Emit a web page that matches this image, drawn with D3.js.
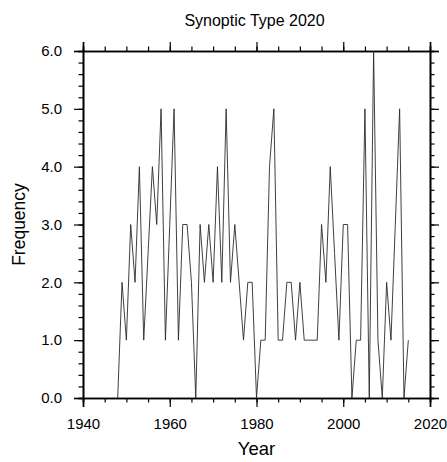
<!DOCTYPE html>
<html>
<head>
<meta charset="utf-8">
<script src="https://cdn.jsdelivr.net/npm/d3@7"></script>
<style>
  body { margin: 0; background: #fff; }
  text { font-family: "Liberation Sans", Arial, Helvetica, sans-serif; fill: #000; }
</style>
</head>
<body>
<div id="chart"></div>
<script>
/**********************************************************************/
// DATA:
/**********************************************************************/
const years = [
  1948, 1949, 1950, 1951, 1952, 1953, 1954, 1955, 1956, 1957,
  1958, 1959, 1960, 1961, 1962, 1963, 1964, 1965, 1966, 1967,
  1968, 1969, 1970, 1971, 1972, 1973, 1974, 1975, 1976, 1977,
  1978, 1979, 1980, 1981, 1982, 1983, 1984, 1985, 1986, 1987,
  1988, 1989, 1990, 1991, 1992, 1993, 1994, 1995, 1996, 1997,
  1998, 1999, 2000, 2001, 2002, 2003, 2004, 2005, 2006, 2007,
  2008, 2009, 2010, 2011, 2012, 2013, 2014, 2015
];
const frequency = [
  0, 2, 1, 3, 2, 4, 1, 2.5, 4, 3,
  5, 1, 3, 5, 1, 3, 3, 2, 0, 3,
  2, 3, 2, 4, 2, 5, 2, 3, 2, 1,
  2, 2, 0, 1, 1, 4, 5, 1, 1, 2,
  2, 1, 2, 1, 1, 1, 1, 3, 2, 4,
  2.5, 1, 3, 3, 0, 1, 1, 5, 0, 6,
  1, 0, 2, 1, 3, 5, 0, 1
];
const xTicks = [1940, 1960, 1980, 2000, 2020];
const yTicks = [0, 1, 2, 3, 4, 5, 6];
const titleText = 'Synoptic Type 2020';
const xLabel = 'Year';
const yLabel = 'Frequency';

/**********************************************************************/
// CHART DEFINITIONS:
/**********************************************************************/
const svgWidth = 447;
const svgHeight = 462;

const margin = { top: 51, right: 17, bottom: 64, left: 83 };
const chartWidth = svgWidth - margin.left - margin.right;
const chartHeight = svgHeight - margin.top - margin.bottom;

let svg = d3.select('#chart')
            .append('svg')
            .attr('width', svgWidth)
            .attr('height', svgHeight);

let chartGroup = svg.append('g')
                    .attr('transform', `translate(${margin.left}, ${margin.top})`);

// scales:
let xScale = d3.scaleLinear().domain([1940, 2020]).range([0, chartWidth]);
let yScale = d3.scaleLinear().domain([0, 6]).range([chartHeight, 0]);

// minor tick positions:
const xMinor = d3.range(1940, 2021, 5);
const yMinor = d3.range(0, 6.01, 0.2).map(d => +d.toFixed(1));

// helper to draw one axis (major + minor):
function drawAxis(axisFn, scale, majors, minors, transform, showLabels, fmt, pad) {
    let g = chartGroup.append('g').attr('transform', transform);
    g.call(axisFn(scale).tickValues(minors).tickSize(4.5).tickFormat(''));
    let m = chartGroup.append('g').attr('transform', transform);
    m.call(axisFn(scale).tickValues(majors).tickSize(9).tickPadding(pad)
                        .tickFormat(showLabels ? fmt : ''));
    [g, m].forEach(a => {
        a.select('.domain').attr('stroke', '#000').attr('stroke-width', 1.6);
        a.selectAll('.tick line').attr('stroke', '#000').attr('stroke-width', 1.2);
        a.selectAll('.tick text').style('font-size', '15px')
         .style('font-family', '"Liberation Sans", Arial, sans-serif');
    });
    return m;
}

let fmtX = d3.format('d');
let fmtY = d3.format('.1f');

drawAxis(d3.axisBottom, xScale, xTicks, xMinor, `translate(0, ${chartHeight})`, true, fmtX, 11);
drawAxis(d3.axisTop, xScale, xTicks, xMinor, 'translate(0, 0)', false, fmtX, 3);
drawAxis(d3.axisLeft, yScale, yTicks, yMinor, 'translate(0, 0)', true, fmtY, 12);
drawAxis(d3.axisRight, yScale, yTicks, yMinor, `translate(${chartWidth}, 0)`, false, fmtY, 3);

// line:
let line = d3.line()
             .x((d, i) => xScale(years[i]))
             .y(d => yScale(d));

chartGroup.append('path')
          .datum(frequency)
          .attr('fill', 'none')
          .attr('stroke', '#2a2a2a')
          .attr('stroke-width', 0.9)
          .attr('stroke-linejoin', 'miter')
          .attr('d', line);

// title and axis labels:
svg.append('text')
   .attr('x', margin.left + chartWidth / 2 - 2)
   .attr('y', 26)
   .attr('text-anchor', 'middle')
   .style('font-size', '16px')
   .text(titleText);

svg.append('text')
   .attr('x', margin.left + chartWidth / 2)
   .attr('y', 455)
   .attr('text-anchor', 'middle')
   .style('font-size', '18.5px')
   .text(xLabel);

svg.append('text')
   .attr('transform', `translate(25, ${margin.top + chartHeight / 2}) rotate(-90)`)
   .attr('text-anchor', 'middle')
   .style('font-size', '17.5px')
   .text(yLabel);
</script>
</body>
</html>
